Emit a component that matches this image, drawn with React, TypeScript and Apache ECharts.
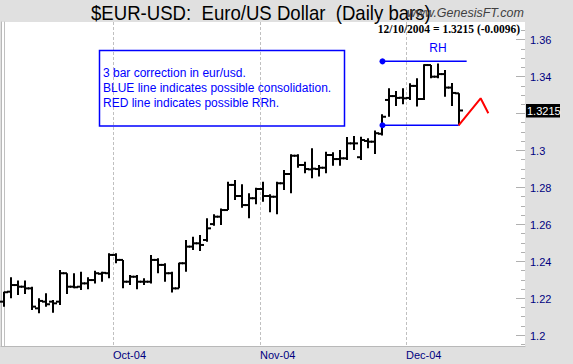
import React, { useEffect, useRef } from "react";
import * as echarts from "echarts";

// ---- Data ----
const opens = [1.2180, 1.2234, 1.2270, 1.2261, 1.2252, 1.2144, 1.2180, 1.2180, 1.2180, 1.2334,
  1.2261, 1.2261, 1.2279, 1.2297, 1.2331, 1.2334, 1.2433, 1.2406, 1.2288, 1.2315,
  1.2288, 1.2288, 1.2406, 1.2379, 1.2334, 1.2252, 1.2388, 1.2478, 1.2496, 1.2514,
  1.2600, 1.2640, 1.2676, 1.2812, 1.2752, 1.2703, 1.2740, 1.2790, 1.2752, 1.2748,
  1.2821, 1.2871, 1.2970, 1.2920, 1.2896, 1.2898, 1.2905, 1.2974, 1.2952, 1.2956,
  1.3037, 1.2962, 1.3050, 1.3046, 1.3089, 1.3272, 1.3293, 1.3284, 1.3283, 1.3348,
  1.3277, 1.3461, 1.3398, 1.3412, 1.3339, 1.3308];
const highs = [1.2234, 1.2312, 1.2294, 1.2294, 1.2261, 1.2198, 1.2225, 1.2189, 1.2351, 1.2334,
  1.2334, 1.2342, 1.2312, 1.2348, 1.2342, 1.2442, 1.2442, 1.2406, 1.2324, 1.2324,
  1.2307, 1.2433, 1.2415, 1.2388, 1.2342, 1.2391, 1.2514, 1.2532, 1.2541, 1.2631,
  1.2653, 1.2685, 1.2829, 1.2839, 1.2815, 1.2767, 1.2797, 1.2829, 1.2761, 1.2829,
  1.2893, 1.2978, 1.2978, 1.2938, 1.3010, 1.2920, 1.2992, 1.2989, 1.3001, 1.3071,
  1.3077, 1.3073, 1.3064, 1.3106, 1.3194, 1.3335, 1.3321, 1.3335, 1.3362, 1.3389,
  1.3465, 1.3461, 1.3470, 1.3434, 1.3364, 1.3308];
const lows = [1.2153, 1.2198, 1.2216, 1.2222, 1.2135, 1.2117, 1.2153, 1.2120, 1.2162, 1.2222,
  1.2252, 1.2243, 1.2247, 1.2279, 1.2288, 1.2307, 1.2388, 1.2252, 1.2270, 1.2247,
  1.2270, 1.2279, 1.2334, 1.2288, 1.2229, 1.2252, 1.2342, 1.2460, 1.2454, 1.2505,
  1.2591, 1.2595, 1.2676, 1.2730, 1.2689, 1.2631, 1.2707, 1.2721, 1.2664, 1.2653,
  1.2785, 1.2767, 1.2905, 1.2875, 1.2848, 1.2857, 1.2875, 1.2916, 1.2916, 1.2947,
  1.3001, 1.2947, 1.3010, 1.2979, 1.3079, 1.3181, 1.3239, 1.3249, 1.3272, 1.3236,
  1.3272, 1.3389, 1.3389, 1.3290, 1.3239, 1.3135];
const closes = [1.2231, 1.2270, 1.2261, 1.2252, 1.2153, 1.2184, 1.2166, 1.2171, 1.2334, 1.2261,
  1.2258, 1.2279, 1.2297, 1.2334, 1.2336, 1.2433, 1.2406, 1.2288, 1.2315, 1.2288,
  1.2288, 1.2406, 1.2379, 1.2334, 1.2252, 1.2388, 1.2478, 1.2496, 1.2487, 1.2577,
  1.2640, 1.2676, 1.2812, 1.2752, 1.2703, 1.2740, 1.2790, 1.2752, 1.2748, 1.2821,
  1.2871, 1.2970, 1.2920, 1.2898, 1.2900, 1.2905, 1.2974, 1.2952, 1.2956, 1.3037,
  1.3037, 1.3055, 1.3046, 1.3092, 1.3181, 1.3293, 1.3283, 1.3281, 1.3348, 1.3277,
  1.3461, 1.3398, 1.3412, 1.3339, 1.3310, 1.3215];

const monthLabels = ["Oct-04", "Nov-04", "Dec-04"];
const monthStartIndex = [16, 37, 58];

const yMajorTicks = [1.2, 1.22, 1.24, 1.26, 1.28, 1.3, 1.32, 1.34, 1.36];
const yMinorTicks = [1.195, 1.205, 1.21, 1.215, 1.225, 1.23, 1.235, 1.245, 1.25, 1.255,
  1.265, 1.27, 1.275, 1.285, 1.29, 1.295, 1.305, 1.31, 1.315, 1.325, 1.33, 1.335,
  1.345, 1.35, 1.355, 1.365];

const lastIndex = 65;
const lastClose = 1.3215;
const rhTop: [number, number][] = [[54.1, 1.3481], [66.15, 1.3481]];
const rhBottom: [number, number][] = [[54.1, 1.3135], [65, 1.3135]];
const rrhPath: [number, number][] = [[65, 1.3135], [68.15, 1.3281], [69.25, 1.32]];

const X_MIN = -0.5;
const X_MAX = 74.5;
const Y_MIN = 1.194;
const Y_MAX = 1.3694;

const FONT = "'Liberation Sans', Arial, sans-serif";
const NAVY = "#000080";

export default function App() {
  const ref = useRef<HTMLDivElement>(null);

  useEffect(() => {
    if (!ref.current) return;
    const chart = echarts.init(ref.current, undefined, { renderer: "svg" });

    const bars = opens.map((o, i) => [i, o, highs[i], lows[i], closes[i]]);

    const option: any = {
      animation: false,
      backgroundColor: "#e0e0e0",
      grid: {
        left: 1,
        right: 48,
        top: 22,
        bottom: 18,
        show: true,
        backgroundColor: "#ffffff",
        borderWidth: 0,
      },
      xAxis: {
        type: "value",
        min: X_MIN,
        max: X_MAX,
        axisLine: { show: true, onZero: false, lineStyle: { color: "#b8b8b8", width: 1 } },
        axisTick: { show: false },
        axisLabel: { show: false },
        splitLine: { show: false },
      },
      yAxis: [
        {
          type: "value",
          position: "right",
          min: Y_MIN,
          max: Y_MAX,
          axisLine: { show: true, lineStyle: { color: "#c0c0c0", width: 1 } },
          axisTick: { show: false },
          axisLabel: { show: false },
          splitLine: { show: false },
        },
        {
          type: "value",
          position: "left",
          min: Y_MIN,
          max: Y_MAX,
          axisLine: { show: true, lineStyle: { color: "#b8b8b8", width: 1 } },
          axisTick: { show: false },
          axisLabel: { show: false },
          splitLine: { show: false },
        },
      ],
      graphic: [
        {
          type: "text",
          x: 91,
          y: 13,
          scaleX: 0.93,
          style: {
            text: "$EUR-USD:  Euro/US Dollar  (Daily bars)",
            fill: "#000",
            font: `20px ${FONT}`,
            align: "left",
            verticalAlign: "middle",
          },
          z: 10,
        },
        {
          type: "text",
          x: 407,
          y: 13,
          style: {
            text: "www.GenesisFT.com",
            fill: "#404040",
            font: `italic 12.5px ${FONT}`,
            align: "left",
            verticalAlign: "middle",
          },
          z: 11,
        },
        {
          type: "text",
          x: 520,
          y: 29,
          style: {
            text: "12/10/2004 = 1.3215 (-0.0096)",
            fill: "#000",
            font: `bold 11.5px 'Liberation Serif', 'Times New Roman', serif`,
            align: "right",
            verticalAlign: "middle",
          },
          z: 11,
        },
        {
          type: "rect",
          shape: { x: 99.5, y: 50.5, width: 245, height: 75.5 },
          style: { fill: "none", stroke: "#0000ff", lineWidth: 1.5 },
          z: 10,
        },
        {
          type: "text",
          x: 103,
          y: 65,
          style: {
            text: "3 bar correction in eur/usd.\nBLUE line indicates possible consolidation.\nRED line indicates possible RRh.",
            fill: "#0000ff",
            font: `12px ${FONT}`,
            lineHeight: 15,
            align: "left",
            verticalAlign: "top",
          },
          z: 10,
        },
        {
          type: "text",
          x: 438,
          y: 47.5,
          style: {
            text: "RH",
            fill: "#0000ff",
            font: `12px ${FONT}`,
            align: "center",
            verticalAlign: "middle",
          },
          z: 10,
        },
      ],
      series: [
        // month gridlines + labels
        {
          type: "custom",
          clip: false,
          z: 1,
          silent: true,
          data: monthStartIndex.map((s) => [s - 0.5, Y_MIN]),
          encode: { x: 0, y: 1 },
          renderItem: (params: any, api: any) => {
            const cs = params.coordSys;
            const p = api.coord([api.value(0), api.value(1)]);
            const x = Math.round(p[0]) + 0.5;
            return {
              type: "group",
              children: [
                {
                  type: "line",
                  shape: { x1: x, y1: cs.y, x2: x, y2: cs.y + cs.height },
                  style: { stroke: "#c0c0c0", lineWidth: 1, lineDash: [3, 2] },
                },
                {
                  type: "text",
                  x: x - 0.5,
                  y: cs.y + cs.height + 9,
                  style: {
                    text: monthLabels[params.dataIndex],
                    fill: NAVY,
                    font: `11px ${FONT}`,
                    align: "left",
                    verticalAlign: "middle",
                  },
                },
              ],
            };
          },
        },
        // y-axis major ticks + labels (label hidden where the last-price tag covers it)
        {
          type: "custom",
          clip: false,
          z: 2,
          silent: true,
          data: yMajorTicks.map((v) => [0, v]),
          encode: { x: 0, y: 1 },
          renderItem: (params: any, api: any) => {
            const cs = params.coordSys;
            const v = api.value(1);
            const p = api.coord([0, v]);
            const right = cs.x + cs.width;
            const y = Math.round(p[1]) + 0.5;
            const children: any[] = [
              {
                type: "line",
                shape: { x1: right - 9, y1: y, x2: right, y2: y },
                style: { stroke: "#b0b0b0", lineWidth: 1 },
              },
            ];
            if (Math.abs(v - lastClose) > 0.004) {
              children.push({
                type: "text",
                x: right + 5,
                y: y,
                style: {
                  text: String(yMajorTicks[params.dataIndex]),
                  fill: NAVY,
                  font: `11px ${FONT}`,
                  align: "left",
                  verticalAlign: "middle",
                },
              });
            }
            return { type: "group", children };
          },
        },
        // y-axis minor ticks
        {
          type: "custom",
          clip: false,
          z: 2,
          silent: true,
          data: yMinorTicks.map((v) => [0, v]),
          encode: { x: 0, y: 1 },
          renderItem: (params: any, api: any) => {
            const cs = params.coordSys;
            const p = api.coord([0, api.value(1)]);
            const right = cs.x + cs.width;
            const y = Math.round(p[1]) + 0.5;
            return {
              type: "line",
              shape: { x1: right - 4, y1: y, x2: right, y2: y },
              style: { stroke: "#b0b0b0", lineWidth: 1 },
            };
          },
        },
        // OHLC bars
        {
          type: "custom",
          z: 3,
          data: bars,
          encode: { x: 0, y: [1, 2, 3, 4] },
          renderItem: (_params: any, api: any) => {
            const x = api.value(0);
            const pH = api.coord([x, api.value(2)]);
            const pL = api.coord([x, api.value(3)]);
            const pO = api.coord([x, api.value(1)]);
            const pC = api.coord([x, api.value(4)]);
            const px = Math.round(pH[0]);
            const st = { stroke: "#000", lineWidth: 2 };
            return {
              type: "group",
              children: [
                { type: "line", shape: { x1: px, y1: pH[1], x2: px, y2: pL[1] }, style: st },
                { type: "line", shape: { x1: px - 4, y1: pO[1], x2: px, y2: pO[1] }, style: st },
                { type: "line", shape: { x1: px, y1: pC[1], x2: px + 4, y2: pC[1] }, style: st },
              ],
            };
          },
        },
        // consolidation lines (blue)
        {
          type: "line",
          z: 4,
          data: rhTop.map((p, i) => ({ value: p, symbol: i === 0 ? "circle" : "none" })),
          symbolSize: 6,
          itemStyle: { color: "#0000ff" },
          lineStyle: { color: "#0000ff", width: 1.5 },
          silent: true,
        },
        {
          type: "line",
          z: 4,
          data: rhBottom.map((p, i) => ({ value: p, symbol: i === 0 ? "circle" : "none" })),
          symbolSize: 6,
          itemStyle: { color: "#0000ff" },
          lineStyle: { color: "#0000ff", width: 1.5 },
          silent: true,
        },
        // possible RRh (red)
        {
          type: "line",
          z: 4,
          data: rrhPath,
          symbol: "none",
          lineStyle: { color: "#ff0000", width: 2 },
          silent: true,
        },
        // last price tag
        {
          type: "custom",
          clip: false,
          z: 5,
          silent: true,
          data: [[lastIndex, lastClose]],
          encode: { x: 0, y: 1 },
          renderItem: (params: any, api: any) => {
            const cs = params.coordSys;
            const p = api.coord([api.value(0), api.value(1)]);
            const right = cs.x + cs.width;
            return {
              type: "group",
              children: [
                {
                  type: "rect",
                  shape: { x: right + 1, y: p[1] - 6.5, width: 34, height: 13.5 },
                  style: { fill: "#000" },
                },
                {
                  type: "text",
                  x: right + 2,
                  y: p[1] + 0.5,
                  style: {
                    text: lastClose.toFixed(4),
                    fill: "#fff",
                    font: `11px ${FONT}`,
                    align: "left",
                    verticalAlign: "middle",
                  },
                },
              ],
            };
          },
        },
      ],
    };

    chart.setOption(option);
    return () => chart.dispose();
  }, []);

  return (
    <div
      ref={ref}
      style={{ position: "fixed", left: 0, top: 0, width: 573, height: 364, background: "#e0e0e0" }}
    />
  );
}
